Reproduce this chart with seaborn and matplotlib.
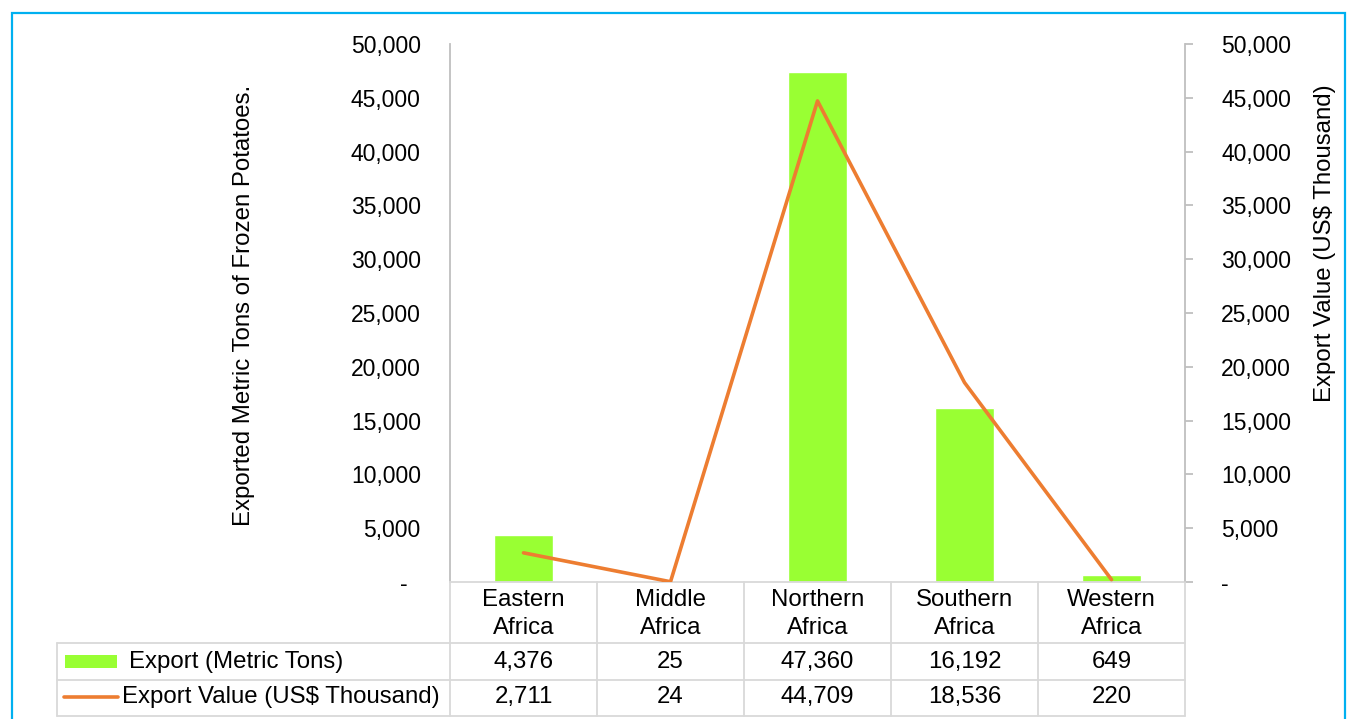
import numpy as np
import pandas as pd
import matplotlib
matplotlib.use("Agg")
import matplotlib.pyplot as plt
from matplotlib.ticker import FuncFormatter, MultipleLocator
from matplotlib.transforms import blended_transform_factory
from matplotlib.patches import Rectangle
from matplotlib.lines import Line2D
import seaborn as sns

# Data
regions = ["Eastern\nAfrica", "Middle\nAfrica", "Northern\nAfrica", "Southern\nAfrica", "Western\nAfrica"]
export_tons = [4376, 25, 47360, 16192, 649]
export_value = [2711, 24, 44709, 18536, 220]
series_names = ["Export (Metric Tons)", "Export Value (US$ Thousand)"]

BAR_COLOR = "#99FF33"
LINE_COLOR = "#ED7D31"
GRID_GRAY = "#D9D9D9"
AXIS_GRAY = "#BFBFBF"
FS = 16.5        # tick labels
FS_TXT = 17.3    # axis titles and table text

sns.set_theme(style="white")
plt.rcParams["font.family"] = ["Liberation Sans", "DejaVu Sans"]
plt.rcParams["text.color"] = "black"

W, H = 1348, 719
fig = plt.figure(figsize=(W / 100, H / 100), dpi=100)


def fx(px):
    return px / W


def fy(py):
    return 1 - py / H


ax = fig.add_axes([fx(450), fy(582), fx(1185) - fx(450), fy(44) - fy(582)])
df = pd.DataFrame({"region": regions, "tons": export_tons, "value": export_value})
sns.barplot(data=df, x="region", y="tons", color=BAR_COLOR, saturation=1,
            width=0.4, ax=ax)
ax.set_xlim(-0.5, len(regions) - 0.5)
ax.set_ylim(0, 50000)
ax.yaxis.set_major_locator(MultipleLocator(5000))


def fmt(v, _):
    return "-  " if v == 0 else f"{v:,.0f}"


ax.yaxis.set_major_formatter(FuncFormatter(fmt))
ax.tick_params(axis="y", length=0, pad=21, labelsize=FS, labelcolor="black")
ax.tick_params(axis="x", length=0, labelbottom=False)
ax.set_xlabel("")
ax.set_ylabel("")
for s in ["top", "right"]:
    ax.spines[s].set_visible(False)
ax.spines["left"].set_color(AXIS_GRAY)
ax.spines["left"].set_linewidth(1.3)
ax.spines["bottom"].set_color(GRID_GRAY)
ax.spines["bottom"].set_linewidth(1.3)

ax2 = ax.twinx()
sns.lineplot(x=np.arange(len(regions)), y=export_value, ax=ax2,
             color=LINE_COLOR, linewidth=2.6)
ax2.set_ylim(0, 50000)
ax2.yaxis.set_major_locator(MultipleLocator(5000))
ax2.yaxis.set_major_formatter(FuncFormatter(lambda v, _: "-" if v == 0 else f"{v:,.0f}"))
ax2.tick_params(axis="y", length=6, width=1.3, color=AXIS_GRAY, pad=20,
                labelsize=FS, labelcolor="black", right=True)
for s in ["top", "left", "bottom"]:
    ax2.spines[s].set_visible(False)
ax2.spines["right"].set_color(AXIS_GRAY)
ax2.spines["right"].set_linewidth(1.3)
ax2.set_ylabel("")

# Axis titles
fig.text(fx(244), fy(305), "Exported Metric Tons of Frozen Potatoes.", rotation=90,
         ha="center", va="center", fontsize=FS_TXT)
fig.text(fx(1325), fy(243), "Export Value (US$ Thousand)", rotation=90,
         ha="center", va="center", fontsize=FS_TXT)

# Data table below the axis
tr = blended_transform_factory(ax.transData, fig.transFigure)
n = len(regions)
y_head_top, y_r1, y_r2, y_bot = fy(582), fy(643), fy(680), fy(716)
for i in range(n + 1):
    fig.add_artist(Line2D([i - 0.5, i - 0.5], [y_head_top, y_bot], transform=tr,
                          color=GRID_GRAY, lw=1.3))
x_right = ax.transData.transform((n - 0.5, 0))[0] / fig.bbox.width
for yy in (y_r1, y_r2, y_bot):
    fig.add_artist(Line2D([fx(57), x_right], [yy, yy], transform=fig.transFigure,
                          color=GRID_GRAY, lw=1.3))
fig.add_artist(Line2D([fx(57), fx(57)], [y_r1, y_bot], transform=fig.transFigure,
                      color=GRID_GRAY, lw=1.3))

for i, name in enumerate(regions):
    fig.text(i, fy(614), name, transform=tr, ha="center", va="center",
             fontsize=FS_TXT, linespacing=1.3)
    fig.text(i, fy(662), f"{export_tons[i]:,}", transform=tr, ha="center",
             va="center", fontsize=FS_TXT)
    fig.text(i, fy(697), f"{export_value[i]:,}", transform=tr, ha="center",
             va="center", fontsize=FS_TXT)

# Legend keys in the table's first column
fig.add_artist(Rectangle((fx(65), fy(668)), fx(117) - fx(65), fy(655) - fy(668),
                         transform=fig.transFigure, facecolor=BAR_COLOR,
                         edgecolor="none"))
fig.text(fx(129), fy(662), series_names[0], ha="left", va="center", fontsize=FS_TXT)
fig.add_artist(Line2D([fx(64), fx(118)], [fy(697), fy(697)],
                      transform=fig.transFigure, color=LINE_COLOR, lw=2.6))
fig.text(fx(122), fy(697), series_names[1], ha="left", va="center", fontsize=FS_TXT)

# Frame around the chart
fig.add_artist(Rectangle((fx(12), fy(740)), fx(1345) - fx(12), fy(13) - fy(740),
                         transform=fig.transFigure, facecolor="none",
                         edgecolor="#00B0F0", lw=1.6))

fig.savefig("out.png", dpi=100)
